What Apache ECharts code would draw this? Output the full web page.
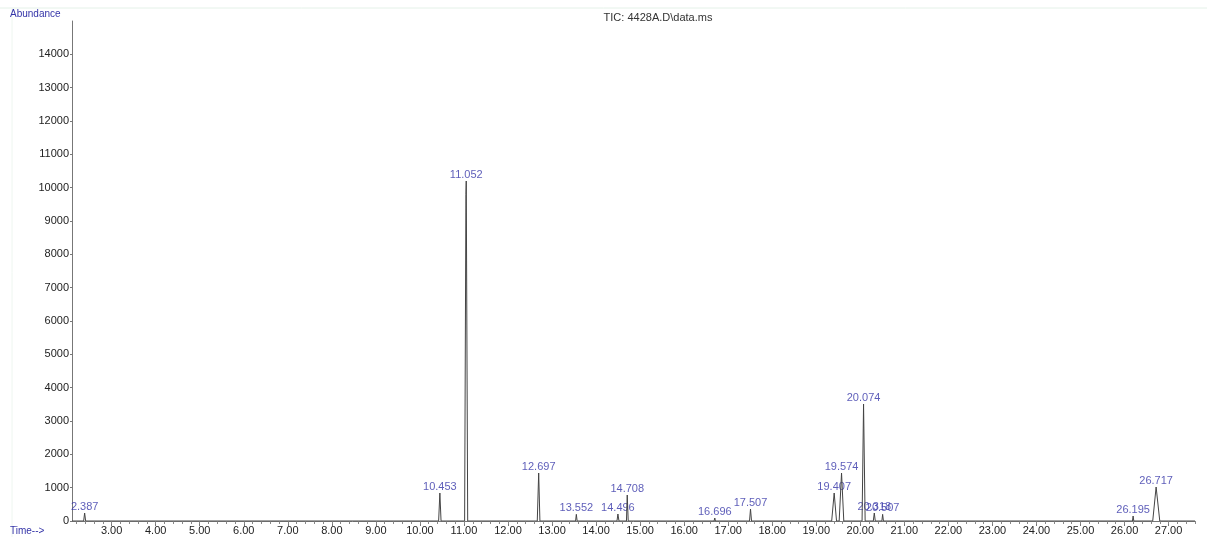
<!DOCTYPE html>
<html>
<head>
<meta charset="utf-8">
<script src="https://cdn.jsdelivr.net/npm/echarts@6/dist/echarts.min.js"></script>
<style>
  html, body { margin: 0; padding: 0; background: #fff; }
  #chart { width: 1207px; height: 537px; }
</style>
</head>
<body>
<div id="chart"></div>
<script>
// chromatogram trace: [time (min), abundance]
var trace = [
  [2.10, 0], [2.365, 0], [2.387, 240], [2.41, 0],
  [10.425, 0], [10.453, 840], [10.48, 0],
  [11.015, 0], [11.045, 9800], [11.052, 10200], [11.085, 0],
  [12.665, 0], [12.697, 1440], [12.725, 0],
  [13.535, 0], [13.552, 200], [13.57, 0],
  [14.475, 0], [14.496, 210], [14.52, 0],
  [14.69, 0], [14.708, 780], [14.73, 0],
  [16.68, 0], [16.696, 90], [16.71, 0],
  [17.485, 0], [17.507, 360], [17.53, 0],
  [19.35, 0], [19.407, 840], [19.46, 0],
  [19.52, 0], [19.574, 1440], [19.625, 0],
  [20.04, 0], [20.074, 3510], [20.11, 0],
  [20.295, 0], [20.318, 240], [20.34, 0],
  [20.49, 0], [20.507, 200], [20.525, 0],
  [26.18, 0], [26.195, 150], [26.21, 0],
  [26.64, 0], [26.717, 1020], [26.80, 0],
  [27.60, 0]
]

// integrated peak labels (retention times)
var peakLabels = ['2.387', '10.453', '11.052', '12.697', '13.552', '14.496', '14.708',
  '16.696', '17.507', '19.407', '19.574', '20.074', '20.318', '20.507', '26.195', '26.717']

var xTickLabels = [3, 4, 5, 6, 7, 8, 9, 10, 11, 12, 13, 14, 15, 16, 17, 18, 19, 20,
  21, 22, 23, 24, 25, 26, 27]
var yTickLabels = [0, 1000, 2000, 3000, 4000, 5000, 6000, 7000, 8000, 9000, 10000,
  11000, 12000, 13000, 14000]

var blue = '#3434a8'
var font = 'Liberation Sans, Arial, sans-serif'

// apex points for labels, looked up from the trace
var peakPoints = peakLabels.map(function (s) {
  var t = parseFloat(s)
  var p = trace.find(function (d) { return Math.abs(d[0] - t) < 1e-6 })
  return { value: [t, p ? p[1] : 0], name: s }
})

// minor ticks every 0.2 min
var minorTicks = []
for (var i = 11; i <= 138; i++) minorTicks.push(+(i * 0.2).toFixed(1))

var chart = echarts.init(document.getElementById('chart'))
var option = {
  animation: false,
  textStyle: { fontFamily: font },
  title: {
    text: 'TIC: 4428A.D\\data.ms',
    left: 653, top: 7, textAlign: 'center',
    textStyle: { fontSize: 11, fontWeight: 'normal', color: '#333', fontFamily: font }
  },
  grid: { left: 72, right: 12, top: 21, bottom: 16 },
  xAxis: [{
    type: 'value', min: 2.1, max: 27.6,
    axisLine: { lineStyle: { color: '#777', width: 1 } },
    axisTick: { customValues: xTickLabels, length: 5, lineStyle: { color: '#777' } },
    axisLabel: {
      customValues: xTickLabels, margin: 4, fontSize: 11, color: '#222',
      formatter: function (v) { return v.toFixed(2) }
    },
    splitLine: { show: false }
  }, {
    type: 'value', min: 2.1, max: 27.6, position: 'bottom',
    axisLine: { show: false },
    axisTick: { customValues: minorTicks, length: 3, lineStyle: { color: '#888' } },
    axisLabel: { show: false },
    splitLine: { show: false }
  }],
  yAxis: {
    type: 'value', min: 0, max: 15000,
    axisLine: { show: true, lineStyle: { color: '#777', width: 1 } },
    axisTick: { show: true, customValues: yTickLabels, length: 2, lineStyle: { color: '#777' } },
    axisLabel: {
      customValues: yTickLabels, margin: 3, fontSize: 11, color: '#222',
      formatter: function (v) { return String(v) }
    },
    splitLine: { show: false }
  },
  graphic: [
    { type: 'line', shape: { x1: 0, y1: 8, x2: 1207, y2: 8 }, style: { stroke: '#e4f1e8', lineWidth: 1 } },
    { type: 'line', shape: { x1: 12, y1: 8, x2: 12, y2: 537 }, style: { stroke: '#eef6f0', lineWidth: 1 } },
    { type: 'text', left: 10, top: 9, style: { text: 'Abundance', fill: blue, fontSize: 10, fontFamily: font } },
    { type: 'text', left: 10, top: 526, style: { text: 'Time-->', fill: blue, fontSize: 10, fontFamily: font } }
  ],
  series: [{
    type: 'line',
    data: trace,
    showSymbol: false,
    symbol: 'none',
    lineStyle: { color: '#444', width: 1 },
    silent: true
  }, {
    type: 'scatter',
    data: peakPoints,
    symbolSize: 0,
    silent: true,
    label: {
      show: true, position: 'top', distance: 1,
      formatter: function (p) { return p.name },
      color: blue, fontSize: 11, fontFamily: font
    }
  }]
}
chart.setOption(option)
</script>
</body>
</html>
